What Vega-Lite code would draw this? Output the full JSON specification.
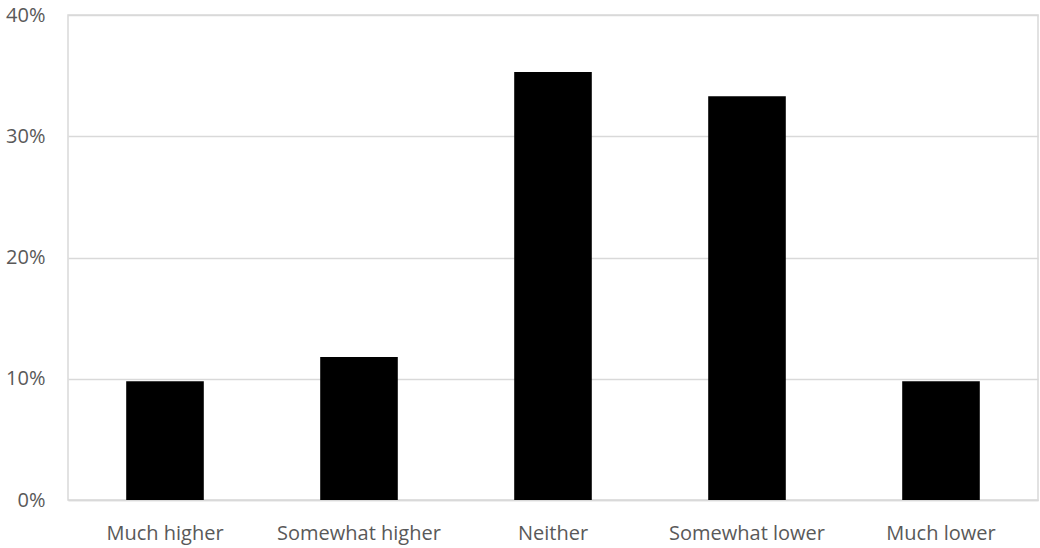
{
  "$schema": "https://vega.github.io/schema/vega-lite/v6.json",
  "width": 970,
  "height": 485,
  "autosize": {"type": "none"},
  "padding": {"left": 68, "top": 15, "right": 2, "bottom": 48},
  "background": "white",
  "config": {
    "view": {"stroke": "#d9d9d9", "strokeWidth": 1.5},
    "font": "Open Sans"
  },
  "data": {
    "values": [
      {"category": "Much higher", "share": 0.098},
      {"category": "Somewhat higher", "share": 0.118},
      {"category": "Neither", "share": 0.353},
      {"category": "Somewhat lower", "share": 0.333},
      {"category": "Much lower", "share": 0.098}
    ]
  },
  "mark": {"type": "bar", "color": "#000000"},
  "encoding": {
    "x": {
      "field": "category",
      "type": "nominal",
      "sort": null,
      "scale": {"paddingInner": 0.6, "paddingOuter": 0.3},
      "axis": {
        "title": null,
        "labelAngle": 0,
        "ticks": false,
        "domain": true,
        "domainColor": "#d9d9d9",
        "domainWidth": 1.5,
        "labelPadding": 23,
        "labelFontSize": 20,
        "labelColor": "#595959",
        "labelFont": "Open Sans"
      }
    },
    "y": {
      "field": "share",
      "type": "quantitative",
      "scale": {"domain": [0, 0.4]},
      "axis": {
        "title": null,
        "format": ".0%",
        "values": [0, 0.1, 0.2, 0.3, 0.4],
        "ticks": false,
        "domain": false,
        "grid": true,
        "gridColor": "#d9d9d9",
        "gridWidth": 1.5,
        "labelPadding": 23,
        "labelFontSize": 20,
        "labelColor": "#595959",
        "labelFont": "Open Sans"
      }
    }
  }
}
